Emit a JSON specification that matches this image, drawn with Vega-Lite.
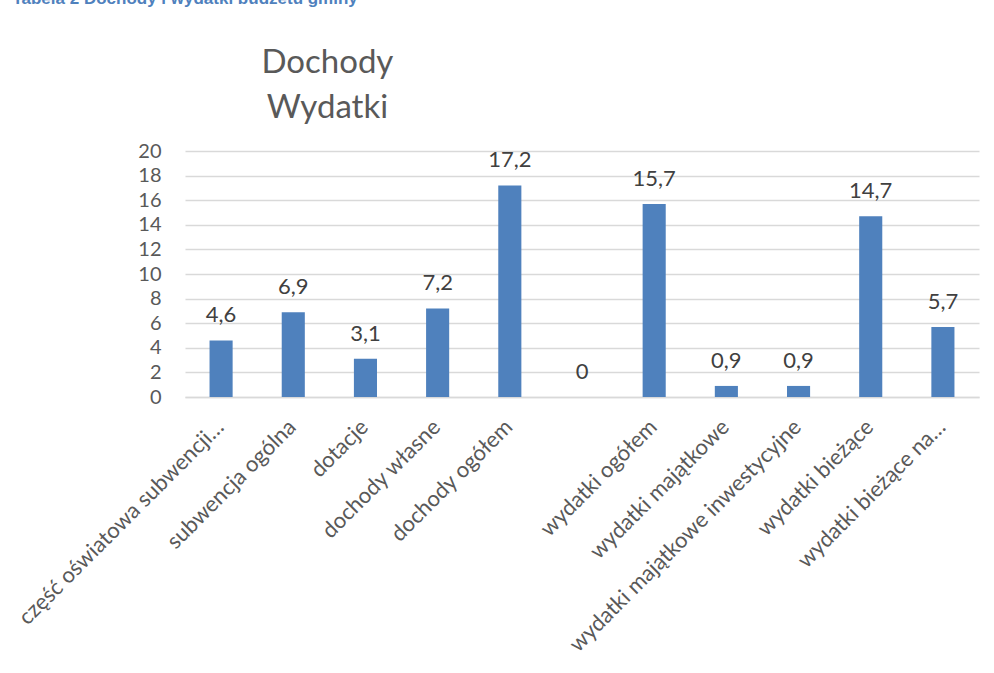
{
  "$schema": "https://vega.github.io/schema/vega-lite/v6.json",
  "background": "white",
  "padding": {"left": 12, "top": -10, "right": 17, "bottom": 5},
  "title": {
    "text": "Tabela 2 Dochody i wydatki budżetu gminy",
    "anchor": "start",
    "font": "Liberation Sans",
    "fontSize": 17,
    "fontWeight": "bold",
    "color": "#4F81BD",
    "offset": 39,
    "dx": -2
  },
  "config": {
    "font": "Lato",
    "view": {"stroke": null},
    "locale": {"number": {"decimal": ",", "thousands": " ", "grouping": [3], "currency": ["", " zł"]}}
  },
  "vconcat": [
    {
      "width": 794,
      "height": 246,
      "title": {
        "text": ["Dochody", "Wydatki"],
        "anchor": "start",
        "align": "center",
        "dx": 313,
        "font": "Lato",
        "fontSize": 33,
        "fontWeight": "normal",
        "color": "#595959",
        "lineHeight": 45,
        "offset": 16
      },
      "data": {
        "values": [
          {"kategoria": "część oświatowa subwencji…", "wartosc": 4.6},
          {"kategoria": "subwencja ogólna", "wartosc": 6.9},
          {"kategoria": "dotacje", "wartosc": 3.1},
          {"kategoria": "dochody własne", "wartosc": 7.2},
          {"kategoria": "dochody ogółem", "wartosc": 17.2},
          {"kategoria": " ", "wartosc": 0},
          {"kategoria": "wydatki ogółem", "wartosc": 15.7},
          {"kategoria": "wydatki majątkowe", "wartosc": 0.9},
          {"kategoria": "wydatki majątkowe inwestycyjne", "wartosc": 0.9},
          {"kategoria": "wydatki bieżące", "wartosc": 14.7},
          {"kategoria": "wydatki bieżące na…", "wartosc": 5.7}
        ]
      },
      "encoding": {
        "x": {
          "field": "kategoria",
          "type": "nominal",
          "sort": null,
          "scale": {"paddingInner": 0.68, "paddingOuter": 0.34},
          "axis": {
            "title": null,
            "labelAngle": -45,
            "labelFontSize": 22,
            "labelColor": "#595959",
            "labelPadding": 19,
            "labelOffset": -8,
            "labelLimit": 400,
            "ticks": false,
            "domainColor": "#d9d9d9",
            "domainWidth": 1.5
          }
        },
        "y": {
          "field": "wartosc",
          "type": "quantitative",
          "scale": {"domain": [0, 20]},
          "axis": {
            "title": null,
            "values": [0, 2, 4, 6, 8, 10, 12, 14, 16, 18, 20],
            "labelFontSize": 20,
            "labelColor": "#595959",
            "labelPadding": 24,
            "ticks": false,
            "domain": false,
            "gridColor": "#d9d9d9",
            "gridWidth": 1.5
          }
        }
      },
      "layer": [
        {"mark": {"type": "bar", "color": "#4F81BD"}},
        {
          "mark": {"type": "text", "baseline": "alphabetic", "dy": -18, "fontSize": 22, "color": "#404040"},
          "encoding": {"text": {"field": "wartosc", "type": "quantitative", "format": "~g"}}
        }
      ]
    }
  ]
}
